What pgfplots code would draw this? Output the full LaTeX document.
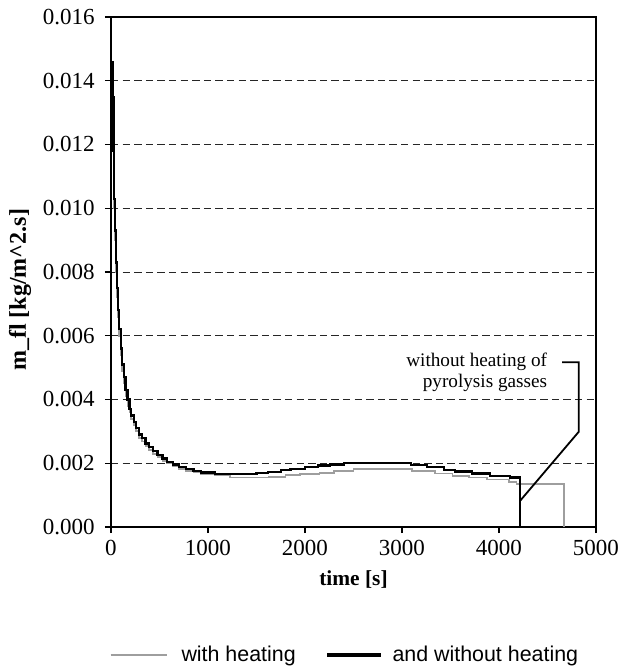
\documentclass[border=0pt]{standalone}
\usepackage{fontspec}
\setmainfont{Liberation Serif}
\newfontfamily\arialfont{Liberation Sans}
\usepackage{pgfplots}
\pgfplotsset{compat=1.18}
\begin{document}
\fontsize{10}{12}\selectfont
\begin{tikzpicture}
\path[use as bounding box] (-55.5pt,-71.5pt) rectangle (255.5pt,263.5pt);
\begin{axis}[
  at={(0,0)}, anchor=south west,
  scale only axis, width=242.5pt, height=255pt,
  xmin=0, xmax=5000, ymin=0, ymax=0.016,
  xtick={0,1000,2000,3000,4000,5000},
  ytick={0,0.002,0.004,0.006,0.008,0.010,0.012,0.014,0.016},
  scaled y ticks=false,
  /pgf/number format/assume math mode=true,
  yticklabel style={/pgf/number format/.cd, fixed, fixed zerofill, precision=3, /tikz/.cd, xshift=-1.7pt},
  xticklabel style={/pgf/number format/1000 sep={}},
  ticklabel style={font=\fontsize{11.5}{13}\selectfont},
  ymajorgrids,
  grid style={black!85, line width=0.5pt, dash pattern=on 3.7pt off 2.1pt},
  axis line style={black, line width=0.8pt},
  tick style={black, line width=0.6pt},
  xtick pos=bottom, ytick pos=left, tick align=outside, major tick length=3pt,
  xlabel={\textbf{time [s]}},
  ylabel={\textbf{m\_fl [kg/m\textasciicircum 2.s]}},
  xlabel style={anchor=center, at={(axis description cs:0.5,-0.1039)}, font=\fontsize{10.7}{12}\selectfont},
  ylabel style={anchor=center, at={(axis description cs:-0.1876,0.465)}, font=\fontsize{12}{14}\selectfont},
  legend columns=2,
  legend style={at={(axis description cs:0.4845,-0.251)}, anchor=center, draw=none,
    font=\arialfont\fontsize{10.7}{12}\selectfont,
    /tikz/every even column/.append style={column sep=13pt}},
  legend cell align=left,
]
\addplot[const plot, color=black!38, line width=0.9pt,
  legend image code/.code={\draw[black!38, line width=0.8pt] (0pt,0pt) -- (28pt,0pt); \path (33pt,0pt);}]
coordinates {
(0,0.0144) (15,0.0131) (25,0.0115) (35,0.0100) (45,0.0090) (55,0.0080)
(65,0.0072) (75,0.0066) (85,0.0060) (100,0.0054) (115,0.0049) (130,0.0045)
(150,0.0041) (170,0.0038) (190,0.0036) (210,0.0034) (235,0.0032) (260,0.0030)
(290,0.0028) (320,0.00268) (355,0.00254) (395,0.00242) (435,0.00230)
(480,0.00219) (530,0.00208) (580,0.00199) (640,0.00190) (700,0.00182)
(770,0.00176) (850,0.00171) (930,0.00166) (1070,0.00162) (1230,0.00155)
(1630,0.00158) (1800,0.00162) (1950,0.00166) (2150,0.00170) (2300,0.00175)
(2500,0.00181) (3100,0.00176) (3340,0.00168) (3520,0.00161) (3690,0.00155)
(3880,0.00149) (4100,0.00142) (4180,0.00136) (4670,0)
};
\addlegendentry{with heating}
\addplot[const plot, color=black, line width=1.1pt,
  legend image code/.code={\draw[black, line width=1.7pt] (0pt,0pt) -- (27pt,0pt); \path (30pt,0pt);}]
coordinates {
(0,0.0146) (15,0.0135) (25,0.0118) (35,0.0103) (45,0.0093) (55,0.0083)
(65,0.0075) (75,0.0068) (85,0.0062) (100,0.0056) (115,0.0051) (130,0.0047)
(150,0.0043) (170,0.0040) (190,0.0037) (210,0.0035) (235,0.0033) (260,0.0031)
(290,0.0029) (320,0.00278) (355,0.00262) (395,0.0025) (435,0.00238)
(480,0.00226) (530,0.00215) (580,0.00205) (640,0.00196) (700,0.00188)
(770,0.00181) (850,0.00175) (930,0.00171) (1070,0.00167) (1500,0.00170)
(1620,0.00173) (1750,0.00178) (1850,0.00183) (2000,0.00189) (2130,0.00193)
(2260,0.00196) (2400,0.00200) (3090,0.00195) (3260,0.00187) (3430,0.00179)
(3550,0.00174) (3720,0.00168) (3910,0.00161) (4110,0.00155) (4215,0)
};
\addlegendentry{and without heating}
\addplot[black, line width=0.9pt, forget plot] coordinates {
(4650,0.00517) (4823,0.00517) (4823,0.00299) (4220,0.00083)
};
\node[anchor=east, align=right, inner sep=0pt, font=\fontsize{9.6}{10.5}\selectfont]
  at (axis cs:4500,0.00485) {without heating of\\pyrolysis gasses};
\end{axis}
\end{tikzpicture}
\end{document}
